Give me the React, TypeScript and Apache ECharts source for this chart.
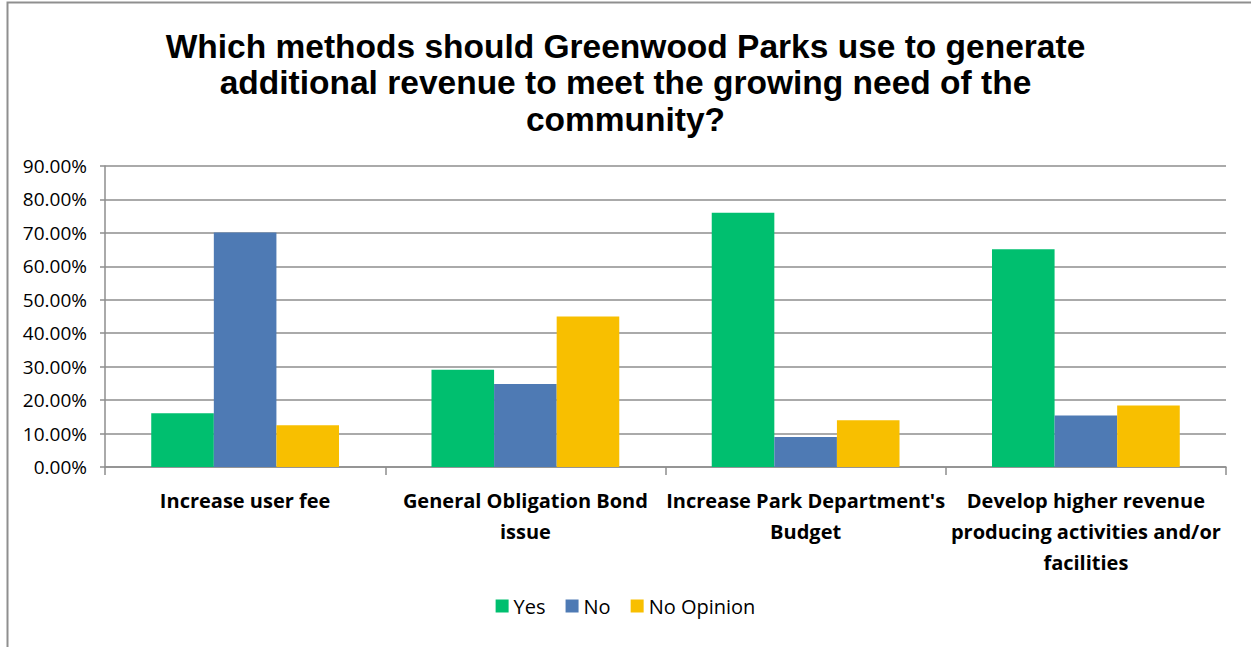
import React, { useEffect, useRef } from "react";
import * as echarts from "echarts";

const titleText =
  "Which methods should Greenwood Parks use to generate\nadditional revenue to meet the growing need of the\ncommunity?";
const categories = [
  "Increase user fee",
  "General Obligation Bond\nissue",
  "Increase Park Department's\nBudget",
  "Develop higher revenue\nproducing activities and/or\nfacilities",
];
const seriesNames = ["Yes", "No", "No Opinion"];
const yesValues = [16.1, 29.1, 76.0, 65.1];
const noValues = [70.1, 24.8, 9.0, 15.4];
const noOpinionValues = [12.5, 45.0, 14.0, 18.4];
const seriesColors = ["#00BF6F", "#4E7AB4", "#F8BF00"];

export default function App() {
  const ref = useRef<HTMLDivElement>(null);
  useEffect(() => {
    if (!ref.current) return;
    const chart = echarts.init(ref.current, null, { renderer: "svg" });
    const values = [yesValues, noValues, noOpinionValues];
    chart.setOption({
      animation: false,
      backgroundColor: "#ffffff",
      graphic: [
        {
          type: "rect",
          shape: { x: 7.5, y: 2.5, width: 1300, height: 700 },
          style: { fill: "none", stroke: "#8f8f8f", lineWidth: 2 },
          silent: true,
        },
      ],
      title: {
        text: titleText,
        left: "center",
        top: 23,
        textStyle: {
          fontFamily: "Liberation Sans, Arial, sans-serif",
          fontWeight: "bold",
          fontSize: 33.5,
          lineHeight: 36.5,
          color: "#000",
        },
      },
      legend: {
        data: seriesNames,
        bottom: 26,
        left: "center",
        itemWidth: 13,
        itemHeight: 13,
        itemGap: 20,
        icon: "rect",
        textStyle: {
          fontFamily: "Open Sans, sans-serif",
          fontSize: 20,
          color: "#000",
        },
      },
      grid: { left: 105, right: 25, top: 166, bottom: 180, containLabel: false },
      xAxis: {
        type: "category",
        data: categories,
        axisLine: { lineStyle: { color: "#8e8e8e", width: 1.5 } },
        axisTick: { show: true, length: 8, lineStyle: { color: "#8e8e8e", width: 1.5 } },
        axisLabel: {
          interval: 0,
          margin: 18,
          fontFamily: "Open Sans, sans-serif",
          fontWeight: "bold",
          fontSize: 20,
          lineHeight: 31,
          color: "#000",
        },
      },
      yAxis: {
        type: "value",
        min: 0,
        max: 90,
        interval: 10,
        axisLine: { show: true, lineStyle: { color: "#8e8e8e", width: 1.5 } },
        axisTick: { show: true, length: 5, lineStyle: { color: "#8e8e8e", width: 1.5 } },
        splitLine: { show: true, lineStyle: { color: "#8e8e8e", width: 1.5 } },
        axisLabel: {
          margin: 18,
          formatter: (v: number) => v.toFixed(2) + "%",
          fontFamily: "Open Sans, sans-serif",
          fontSize: 19,
          color: "#000",
        },
      },
      series: seriesNames.map((name, i) => ({
        name,
        type: "bar",
        data: values[i],
        barGap: "0%",
        barCategoryGap: "33%",
        itemStyle: { color: seriesColors[i] },
      })),
    });
    return () => chart.dispose();
  }, []);
  return (
    <div
      ref={ref}
      style={{ position: "fixed", left: 0, top: 0, width: 1251, height: 647 }}
    />
  );
}
